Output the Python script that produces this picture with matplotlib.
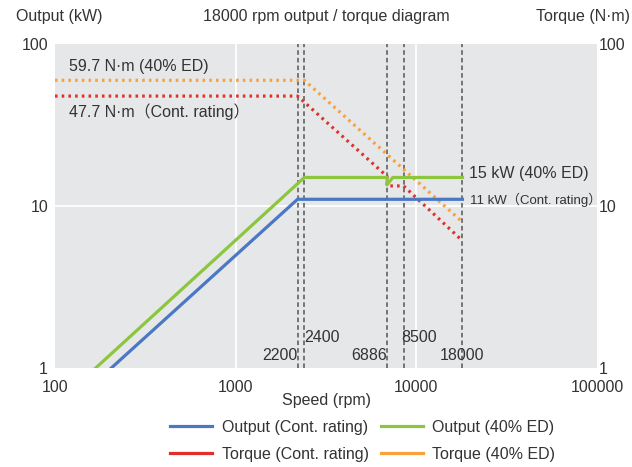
import matplotlib
matplotlib.use("Agg")
import matplotlib.pyplot as plt
from matplotlib.lines import Line2D

plt.rcParams['font.family'] = ['Liberation Sans', 'Noto Sans CJK JP', 'DejaVu Sans']

# Data
out_cont_speed = [205, 2200, 18000]
out_cont_kw = [1, 11, 11]
out_ed_speed = [168, 2400, 6886, 6886, 7400, 18000]
out_ed_kw = [1, 15, 15, 13.5, 15, 15]
tq_cont_speed = [100, 2200, 6886, 6886, 8500, 18000]
tq_cont_nm = [47.7, 47.7, 15.25, 13.3, 13.3, 6.1]
tq_ed_speed = [100, 2400, 18000]
tq_ed_nm = [59.7, 59.7, 7.96]
marker_speeds = [2200, 2400, 6886, 8500, 18000]
marker_labels = ["2200", "2400", "6886", "8500", "18000"]

c_blue = "#4a78c4"
c_green = "#8cc63e"
c_red = "#e0302a"
c_orange = "#f7a23a"

fs = 11.5
tc = "#333333"

fig = plt.figure(figsize=(6.32, 4.67), dpi=100)
ax = fig.add_axes([55/632, 1-368/467, (597-55)/632, (368-44)/467])
ax.set_facecolor("#e6e7e8")
ax.set_xscale("log")
ax.set_yscale("log")
ax.set_xlim(100, 100000)
ax.set_ylim(1, 100)
for s in ax.spines.values():
    s.set_visible(False)
ax.minorticks_off()
ax.set_xticks([100, 1000, 10000, 100000])
ax.set_xticklabels(["100", "1000", "10000", "100000"])
ax.set_yticks([1, 10, 100])
ax.set_yticklabels(["1", "10", "100"])
ax.tick_params(axis="y", length=0, labelsize=fs, colors=tc, pad=5)
ax.tick_params(axis="x", length=0, labelsize=fs, colors=tc, pad=9)
for xv in [1000, 10000]:
    ax.axvline(xv, color="white", lw=1.3, zorder=1)
ax.axhline(10, color="white", lw=1.3, zorder=1)

for ms in marker_speeds:
    ax.axvline(ms, color="#555555", lw=1.1, ls=(0, (3, 2)), zorder=2)

dot = (0, (0.8, 1.3))
ax.plot(tq_ed_speed, tq_ed_nm, color=c_orange, lw=2.3, ls=dot, zorder=3)
ax.plot(tq_cont_speed, tq_cont_nm, color=c_red, lw=2.3, ls=dot, zorder=3)
ax.plot(out_ed_speed, out_ed_kw, color=c_green, lw=2.3, zorder=4)
ax.plot(out_cont_speed, out_cont_kw, color=c_blue, lw=2.3, zorder=4)

ax2 = ax.twinx()
ax2.set_yscale("log")
ax2.set_ylim(1, 100)
for s in ax2.spines.values():
    s.set_visible(False)
ax2.minorticks_off()
ax2.set_yticks([1, 10, 100])
ax2.set_yticklabels(["1", "10", "100"])
ax2.tick_params(length=0, labelsize=fs, colors=tc, pad=1)

# marker labels
trans = ax.get_xaxis_transform()
ax.text(marker_speeds[0], 0.04, marker_labels[0], ha="right", va="center", fontsize=fs, color=tc, transform=trans)
ax.text(marker_speeds[1], 0.095, marker_labels[1], ha="left", va="center", fontsize=fs, color=tc, transform=trans)
ax.text(marker_speeds[2], 0.04, marker_labels[2], ha="right", va="center", fontsize=fs, color=tc, transform=trans)
ax.text(8300, 0.095, marker_labels[3], ha="left", va="center", fontsize=fs, color=tc, transform=trans)
ax.text(marker_speeds[4], 0.04, marker_labels[4], ha="center", va="center", fontsize=fs, color=tc, transform=trans)

ax.text(119, 73, "59.7 N·m (40% ED)", ha="left", va="center", fontsize=fs, color=tc)
ax.text(119, 38, "47.7 N·m（Cont. rating）", ha="left", va="center", fontsize=fs, color=tc)
ax.text(19600, 15.8, "15 kW (40% ED)", ha="left", va="center", fontsize=fs, color=tc)
ax.text(19800, 10.9, "11 kW（Cont. rating）", ha="left", va="center", fontsize=9.5, color=tc)

fig.text(326/632, 1-17/467, "18000 rpm output / torque diagram", ha="center", va="center", fontsize=fs, color=tc)
fig.text(16/632, 1-17/467, "Output (kW)", ha="left", va="center", fontsize=fs, color=tc)
fig.text(630/632, 1-17/467, "Torque (N·m)", ha="right", va="center", fontsize=fs, color=tc)
fig.text(326/632, 1-400/467, "Speed (rpm)", ha="center", va="center", fontsize=fs, color=tc)

h_blue = Line2D([], [], color=c_blue, lw=2.3)
h_green = Line2D([], [], color=c_green, lw=2.3)
h_red = Line2D([], [], color=c_red, lw=2.3)
h_orange = Line2D([], [], color=c_orange, lw=2.3)
handles = [h_blue, h_red, h_green, h_orange]
labels = ["Output (Cont. rating)", "Torque (Cont. rating)", "Output (40% ED)", "Torque (40% ED)"]
leg = fig.legend(handles, labels, ncol=2, loc="center", bbox_to_anchor=(363/632, 1-441/467),
                 frameon=False, fontsize=fs, handlelength=2.6, columnspacing=0.8,
                 labelspacing=0.75, handletextpad=0.6)
for t in leg.get_texts():
    t.set_color(tc)

fig.savefig("out.png", dpi=100)
